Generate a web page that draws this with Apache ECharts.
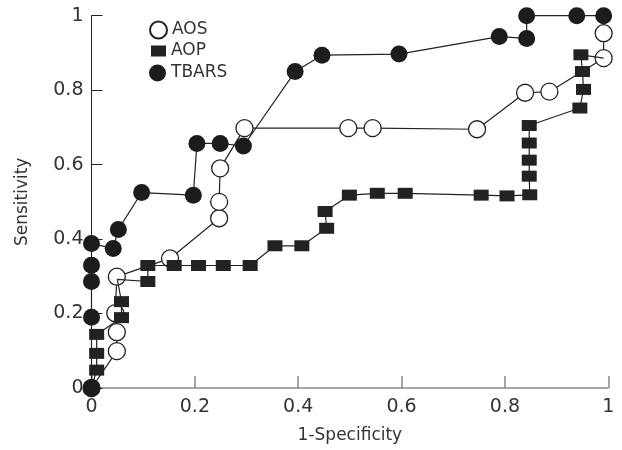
<!DOCTYPE html>
<html>
<head>
<meta charset="utf-8">
<script src="https://cdn.jsdelivr.net/npm/echarts@6/dist/echarts.min.js"></script>
<style>html,body{margin:0;padding:0;background:#fff}#c{width:622px;height:450px}</style>
</head>
<body>
<div id="c"></div>
<script>
// [1-Specificity, Sensitivity]
const aosPoints = [
  [0, 0], [0.049, 0.099], [0.049, 0.150], [0.046, 0.201], [0.049, 0.299],
  [0.152, 0.348], [0.247, 0.456], [0.247, 0.500], [0.249, 0.590], [0.296, 0.698],
  [0.497, 0.698], [0.544, 0.698], [0.746, 0.695], [0.839, 0.793], [0.886, 0.796],
  [0.991, 0.886], [0.991, 0.953]
];
const aopPoints = [
  [0, 0], [0.010, 0.048], [0.010, 0.093], [0.010, 0.144], [0.058, 0.189],
  [0.058, 0.232], [0.050, 0.292], [0.109, 0.286], [0.109, 0.329], [0.160, 0.329],
  [0.207, 0.329], [0.255, 0.329], [0.307, 0.329], [0.355, 0.382], [0.407, 0.382],
  [0.455, 0.429], [0.452, 0.474], [0.499, 0.518], [0.553, 0.523], [0.607, 0.523],
  [0.754, 0.518], [0.804, 0.516], [0.848, 0.519], [0.847, 0.569], [0.847, 0.612],
  [0.847, 0.658], [0.847, 0.705], [0.945, 0.752], [0.952, 0.802], [0.950, 0.850],
  [0.947, 0.895], [0.991, 0.886]
];
// points of AOP hidden under other markers (line passes through, no square drawn)
const aopHidden = [6, 31];
const tbarsPoints = [
  [0, 0], [0, 0.190], [0, 0.286], [0, 0.330], [0, 0.388],
  [0.042, 0.375], [0.052, 0.426], [0.097, 0.525], [0.197, 0.518], [0.204, 0.657],
  [0.249, 0.657], [0.294, 0.650], [0.394, 0.850], [0.446, 0.894], [0.595, 0.897],
  [0.789, 0.944], [0.842, 0.939], [0.842, 1.0], [0.939, 1.0], [0.991, 1.0]
];
const seriesNames = ['AOS', 'AOP', 'TBARS'];
const xTicks = [0, 0.2, 0.4, 0.6, 0.8, 1];
const yTicks = [0, 0.2, 0.4, 0.6, 0.8, 1];
const xName = '1-Specificity';
const yName = 'Sensitivity';

const FONT = 'DejaVu Sans';
const TXT = '#333';
const chart = echarts.init(document.getElementById('c'), null, {renderer: 'canvas'});

const aopData = aopPoints.map((p, i) => aopHidden.includes(i) ? {value: p, symbol: 'none'} : {value: p});

chart.setOption({
  animation: false,
  backgroundColor: '#fff',
  grid: {left: 91.5, right: 13.7, top: 15.7, bottom: 62, containLabel: false},
  legend: [
    {data: [{name: seriesNames[0], icon: 'circle'}], orient: 'vertical', left: 149, top: 20.5, padding: 0,
     itemWidth: 17, itemHeight: 17, textStyle: {fontFamily: FONT, fontSize: 17, color: TXT}},
    {data: [{name: seriesNames[1], icon: 'rect'}], orient: 'vertical', left: 151, top: 42.5, padding: 0,
     itemWidth: 15, itemHeight: 11, textStyle: {fontFamily: FONT, fontSize: 17, color: TXT}},
    {data: [{name: seriesNames[2], icon: 'circle'}], orient: 'vertical', left: 149, top: 64.5, padding: 0,
     itemWidth: 17, itemHeight: 17, textStyle: {fontFamily: FONT, fontSize: 17, color: TXT}}
  ],
  xAxis: {
    type: 'value', min: xTicks[0], max: xTicks[xTicks.length - 1], interval: xTicks[1] - xTicks[0],
    name: xName, nameLocation: 'middle', nameGap: 39,
    nameTextStyle: {fontFamily: FONT, fontSize: 17, color: TXT},
    axisLine: {show: true, onZero: false, lineStyle: {color: '#8a8a8a', width: 1.5}},
    axisTick: {show: true, inside: true, length: 12, lineStyle: {color: '#8a8a8a', width: 1.5}},
    axisLabel: {fontFamily: FONT, fontSize: 19, color: TXT, margin: 10},
    splitLine: {show: false}
  },
  yAxis: {
    type: 'value', min: yTicks[0], max: yTicks[yTicks.length - 1], interval: yTicks[1] - yTicks[0],
    name: yName, nameLocation: 'middle', nameGap: 60,
    nameTextStyle: {fontFamily: FONT, fontSize: 17, color: TXT},
    axisLine: {show: true, onZero: false, lineStyle: {color: '#222', width: 1}},
    axisTick: {show: true, inside: true, length: 11, lineStyle: {color: '#222', width: 1}},
    axisLabel: {fontFamily: FONT, fontSize: 19, color: TXT, margin: 8},
    splitLine: {show: false}
  },
  series: [
    {
      name: seriesNames[0], type: 'line', data: aosPoints, z: 2,
      symbol: 'circle', symbolSize: 17, showAllSymbol: true,
      itemStyle: {color: '#fff', borderColor: '#222', borderWidth: 1.3},
      lineStyle: {color: '#222', width: 1.2}
    },
    {
      name: seriesNames[1], type: 'line', data: aopData, z: 3,
      symbol: 'rect', symbolSize: [15, 11], showAllSymbol: true,
      itemStyle: {color: '#222'},
      lineStyle: {color: '#222', width: 1.2}
    },
    {
      name: seriesNames[2], type: 'line', data: tbarsPoints, z: 4,
      symbol: 'circle', symbolSize: 17, showAllSymbol: true,
      itemStyle: {color: '#1c1c1c'},
      lineStyle: {color: '#222', width: 1.2}
    }
  ]
});
</script>
</body>
</html>
